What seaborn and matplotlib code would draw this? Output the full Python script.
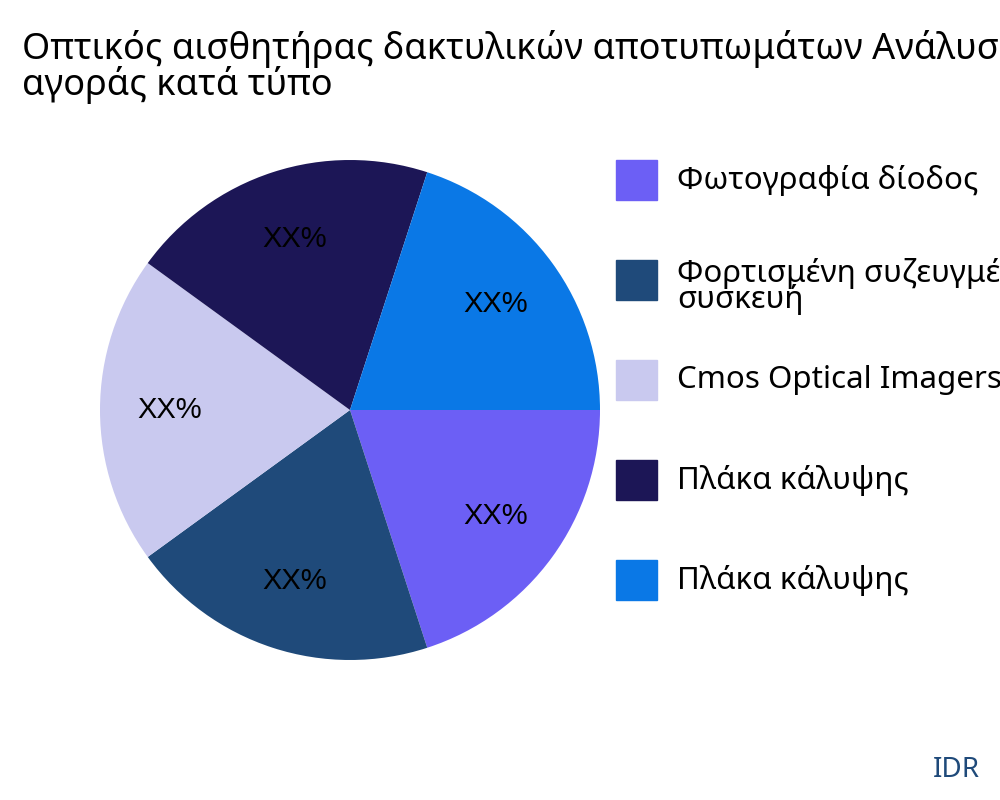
import matplotlib
matplotlib.use("Agg")
import matplotlib.pyplot as plt
import seaborn as sns
from matplotlib.patches import Rectangle

sns.set_theme(style="white")
plt.rcParams['font.family'] = ['Noto Sans', 'DejaVu Sans']

categories = ["Φωτογραφία δίοδος", "Φορτισμένη συζευγμένη\nσυσκευή", "Cmos Optical Imagers",
              "Πλάκα κάλυψης", "Πλάκα κάλυψης"]
values = [1, 1, 1, 1, 1]
colors = ["#6C5FF5", "#1F4A7A", "#C9C9EF", "#1C1656", "#0A78E6"]
title = "Οπτικός αισθητήρας δακτυλικών αποτυπωμάτων Ανάλυση\nαγοράς κατά τύπο"

fig = plt.figure(figsize=(10, 8), dpi=100)
ax = fig.add_axes([0.1, 0.175, 0.5, 0.625])
wedges, texts, autotexts = ax.pie(values, colors=colors, startangle=0, counterclock=False,
                                  autopct=lambda p: "XX%", pctdistance=0.72,
                                  wedgeprops=dict(linewidth=0),
                                  textprops=dict(fontsize=21, family='Liberation Sans', color='black'))
ax.set_xlim(-1, 1)
ax.set_ylim(-1, 1)
ax.set_aspect('equal')

fig.text(0.022, 0.962, title, fontsize=26, va='top', ha='left', linespacing=0.92, color='black')

for i, (c, lab) in enumerate(zip(colors, categories)):
    ytop = 160 + i * 100
    fig.patches.append(Rectangle((0.616, 1 - (ytop + 40) / 800), 0.041, 0.05,
                                 transform=fig.transFigure, color=c, figure=fig))
    if '\n' in lab:
        fig.text(0.677, 1 - 258 / 800, lab, fontsize=22.5, va='top', ha='left', linespacing=0.8, color='black')
    else:
        fig.text(0.677, 1 - (ytop + 20) / 800, lab, fontsize=22.5, va='center', ha='left', color='black')

fig.text(0.98, 0.02, "IDR", fontsize=20, color="#1F4A7A", ha='right', va='bottom')
fig.savefig("out.png", dpi=100)
